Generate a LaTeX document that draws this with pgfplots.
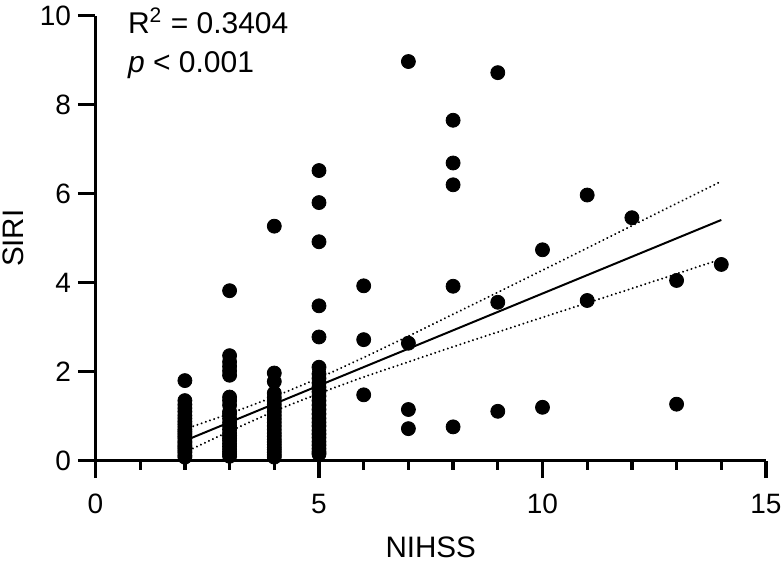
\documentclass[border=0pt]{standalone}
\usepackage{fontspec}
\setmainfont{Liberation Sans}
\usepackage{pgfplots}
\pgfplotsset{compat=1.18}

\begin{document}
\begin{tikzpicture}
\begin{axis}[
  scale only axis, width=335.25pt, height=222.5pt,
  xmin=0, xmax=15, ymin=0, ymax=10,
  axis lines=left, axis line style={-, line width=1.65pt},
  xtick={0,5,10,15}, minor xtick={1,2,3,4,6,7,8,9,11,12,13,14},
  ytick={0,2,4,6,8,10},
  tick align=outside, major tick length=8.75pt, minor tick length=4.5pt,
  every tick/.style={black, line width=1.65pt},
  /pgf/number format/assume math mode=true,
  tick label style={font=\fontsize{14}{16}\selectfont},
  xticklabel style={yshift=-4.5pt},
  label style={font=\fontsize{14.8}{17}\selectfont},
  xlabel={NIHSS}, ylabel={SIRI},
  xlabel style={at={(axis description cs:0.5,-0.194)}, anchor=center},
  ylabel style={at={(axis description cs:-0.123,0.5)}, anchor=center},
  clip=false,
]
% dense columns and scattered points
\addplot[only marks, mark=*, mark size=3.5pt, black] coordinates {
 (2,0.08)(2,0.12)(2,0.18)(2,0.22)(2,0.27)(2,0.31)(2,0.35)(2,0.40)(2,0.44)(2,0.50)
 (2,0.55)(2,0.60)(2,0.65)(2,0.70)(2,0.76)(2,0.82)(2,0.88)(2,0.95)(2,1.02)(2,1.10)
 (2,1.18)(2,1.26)(2,1.35)(2,1.80)
 (3,0.10)(3,0.15)(3,0.20)(3,0.26)(3,0.32)(3,0.38)(3,0.45)(3,0.50)(3,0.56)(3,0.62)
 (3,0.70)(3,0.78)(3,0.86)(3,0.95)(3,1.05)(3,1.10)(3,1.25)(3,1.35)(3,1.43)(3,1.92)
 (3,2.02)(3,2.12)(3,2.22)(3,2.36)(3,3.82)
 (4,0.08)(4,0.13)(4,0.19)(4,0.25)(4,0.30)(4,0.36)(4,0.42)(4,0.48)(4,0.55)(4,0.62)
 (4,0.70)(4,0.78)(4,0.86)(4,0.94)(4,1.02)(4,1.10)(4,1.18)(4,1.26)(4,1.34)(4,1.42)
 (4,1.52)(4,1.78)(4,1.97)(4,5.27)
 (5,0.15)(5,0.20)(5,0.27)(5,0.35)(5,0.43)(5,0.52)(5,0.60)(5,0.68)(5,0.78)(5,0.86)
 (5,0.95)(5,1.05)(5,1.15)(5,1.25)(5,1.35)(5,1.45)(5,1.55)(5,1.65)(5,1.75)(5,1.85)
 (5,1.95)(5,2.10)(5,2.78)(5,3.48)(5,4.92)(5,5.80)(5,6.52)
 (6,1.48)(6,2.72)(6,3.93)
 (7,0.72)(7,1.15)(7,2.64)(7,8.97)
 (8,0.76)(8,3.92)(8,6.20)(8,6.69)(8,7.65)
 (9,1.11)(9,3.56)(9,8.72)
 (10,1.20)(10,4.74)
 (11,3.60)(11,5.97)
 (12,5.46)
 (13,1.27)(13,4.05)
 (14,4.41)
};
% regression line
\addplot[black, line width=1pt] coordinates {(2,0.45)(14,5.41)};
% 95% confidence band
\addplot[black, line width=1.1pt, dash pattern=on 0.01pt off 2.2pt, line cap=round, smooth] coordinates {
 (2,0.71)(3,1.06)(4,1.44)(5,1.86)(6,2.32)(7,2.80)(8,3.29)(10,4.28)(12,5.28)(14,6.28)};
\addplot[black, line width=1.1pt, dash pattern=on 0.01pt off 2.2pt, line cap=round, smooth] coordinates {
 (2,0.19)(3,0.66)(4,1.11)(5,1.51)(6,1.88)(7,2.22)(8,2.56)(10,3.22)(12,3.87)(14,4.53)};
\node[anchor=west, font=\fontsize{15}{17}\selectfont, inner sep=0pt] at (axis cs:0.72,9.88) {R\textsuperscript{2} = 0.3404};
\node[anchor=west, font=\fontsize{15}{17}\selectfont, inner sep=0pt] at (axis cs:0.72,8.88) {\textit{p} < 0.001};
\end{axis}
\pgfresetboundingbox
\path (-47.75pt,-50.15pt) rectangle (343.75pt,230.35pt);
\end{tikzpicture}
\end{document}
